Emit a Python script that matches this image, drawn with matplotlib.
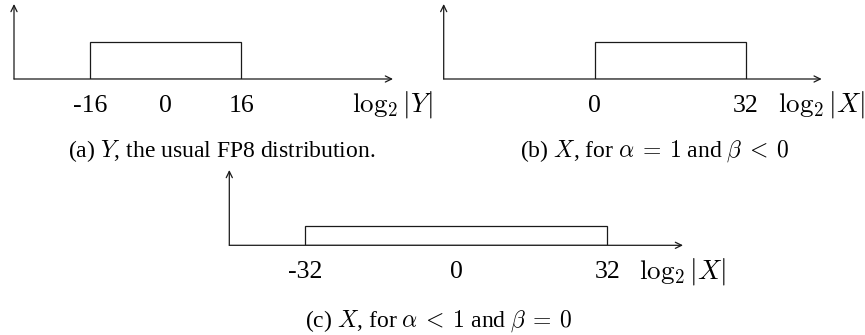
import matplotlib
matplotlib.use("Agg")
import matplotlib.pyplot as plt
from matplotlib import transforms

plt.rcParams['font.family'] = ['Liberation Serif', 'DejaVu Serif']
plt.rcParams['mathtext.fontset'] = 'cm'

# data
panels = ['a', 'b', 'c']
ranges = {'a': [-16, 16], 'b': [0, 32], 'c': [-32, 32]}
heights = {'a': 0.5, 'b': 0.5, 'c': 0.25}
xlims = {'a': [-32, 48], 'b': [-32, 48], 'c': [-48, 48]}
ticks = {'a': [-16, 0, 16], 'b': [0, 32], 'c': [-32, 0, 32]}
tick_labels = {'a': ['-16', '0', '16'], 'b': ['0', '32'], 'c': ['-32', '0', '32']}
xlabels = {'a': r'$\log_2|Y|$', 'b': r'$\log_2|X|$', 'c': r'$\log_2|X|$'}
captions = {'a': r'(a) $Y$, the usual FP8 distribution.',
            'b': r'(b) $X$, for $\alpha\:=\:1$ and $\beta\:<\:0$',
            'c': r'(c) $X$, for $\alpha\:<\:1$ and $\beta\:=\:0$'}

W, H = 865, 335
fig = plt.figure(figsize=(W / 100, H / 100), dpi=100)

# pixel boxes: left, right, top, bottom(baseline)
boxes = {'a': (14, 393, 4, 79), 'b': (443.7, 821.7, 4, 79), 'c': (229.3, 683, 170, 245.3)}
cap_pos = {'a': (68, 157), 'b': (520, 157), 'c': (305, 327)}

col = '#1a1a1a'
for p in panels:
    l, r, t, b = boxes[p]
    ax = fig.add_axes([l / W, (H - b) / H, (r - l) / W, (b - t) / H])
    ax.set_xlim(*xlims[p])
    ax.set_ylim(0, 1)
    ax.axis('off')
    lo, hi = ranges[p]
    ax.bar(lo, heights[p], width=hi - lo, align='edge', fill=False,
           edgecolor=col, linewidth=0.9)
    x0, x1 = xlims[p]
    ap = dict(arrowstyle='->,head_length=0.45,head_width=0.22', color=col,
              lw=0.9, shrinkA=0, shrinkB=0)
    ax.annotate('', xy=(x1, 0), xytext=(x0, 0), arrowprops=ap, annotation_clip=False)
    ax.annotate('', xy=(x0, 1), xytext=(x0, 0), arrowprops=ap, annotation_clip=False)
    tr = transforms.offset_copy(ax.get_xaxis_transform(), fig=fig, y=-33, units='dots')
    for v, s in zip(ticks[p], tick_labels[p]):
        ax.text(v, 0, s, transform=tr, ha='center', va='baseline', fontsize=18.5, color='black')
    ax.text(x1, 0, xlabels[p], transform=tr, ha='center', va='baseline', fontsize=19.5, color='black')
    cx, cy = cap_pos[p]
    fig.text(cx / W, (H - cy) / H, captions[p], ha='left', va='baseline', fontsize=17, color='black')

fig.savefig('out.png', dpi=100)
